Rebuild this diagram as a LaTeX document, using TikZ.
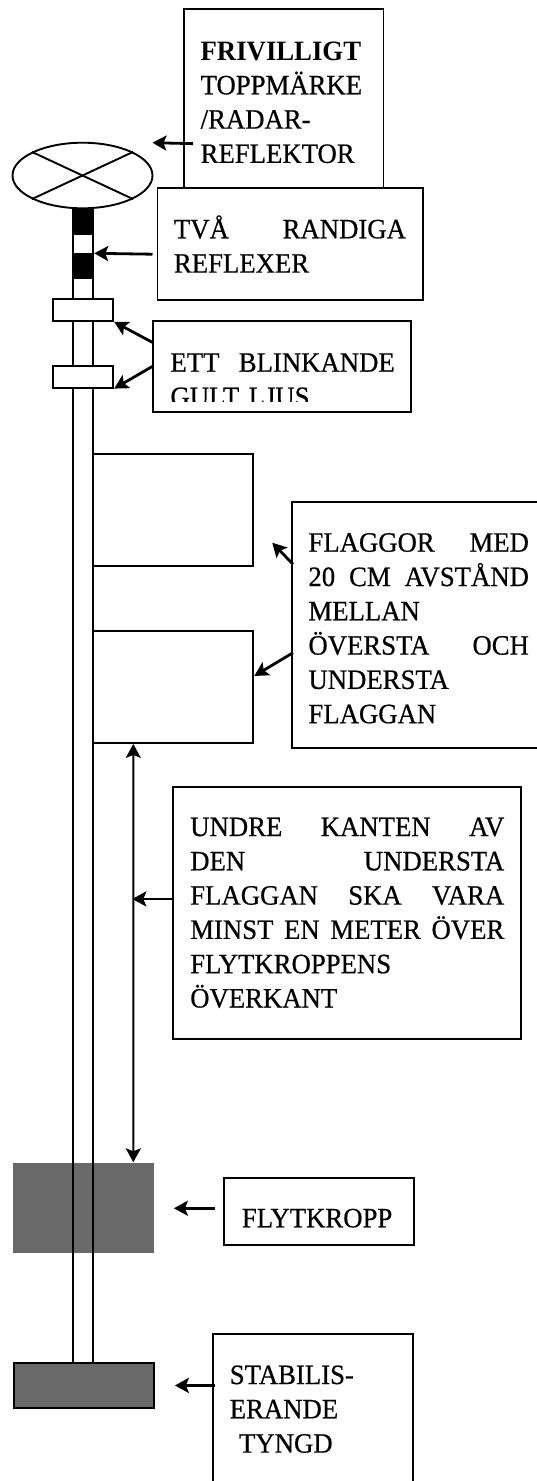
\documentclass[tikz,border=0pt]{standalone}
\usepackage{fontspec}
\setmainfont{Liberation Serif}[FakeStretch=0.955,UprightFeatures={FakeBold=0.6}]
\usetikzlibrary{arrows.meta,shapes.geometric}

\definecolor{floatgray}{RGB}{105,105,105}
\newcommand{\notefont}{\fontsize{28}{34.3}\selectfont}

\begin{document}
\begin{tikzpicture}[x=1pt,y=-1pt,line width=1.9pt]

        \useasboundingbox (0,0) rectangle (537,1481);
        \clip (0,0) rectangle (537,1481);

        \node[fill=floatgray,anchor=north west,inner sep=0pt,minimum width=141.3pt,minimum height=90pt] (float) at (12,1162.3) {};

        \begin{scope}[every node/.style={draw,anchor=north west,inner sep=0pt}]
          \node[minimum width=20pt,minimum height=1153.4pt]          (mast)    at (72.3,208.3)  {};
          \node[fill=black,minimum width=20pt,minimum height=22.7pt] (stripe1) at (72.3,210)    {};
          \node[fill=black,minimum width=20pt,minimum height=24pt]   (stripe2) at (72.3,253.3)  {};
          \node[fill=white,minimum width=60pt,minimum height=21.7pt] (light1)  at (52.3,298.3)  {};
          \node[fill=white,minimum width=60pt,minimum height=21.7pt] (light2)  at (52.3,365)    {};
          \node[minimum width=160.1pt,minimum height=111.7pt]        (flag1)   at (92.3,453.3)  {};
          \node[minimum width=160.1pt,minimum height=112pt]          (flag2)   at (92.3,630)    {};
          \node[fill=floatgray,minimum width=140.3pt,minimum height=45.6pt] (weight) at (12.7,1361.7) {};
        \end{scope}

        \node[draw,ellipse,inner sep=0pt,minimum width=140pt,minimum height=65.6pt] (reflector) at (82.5,175.5) {};
        \draw (reflector.25) -- (reflector.205);
        \draw (reflector.155) -- (reflector.335);

        \begin{scope}[every node/.style={draw,anchor=north west,inner sep=0pt}]
          \node[minimum width=199.5pt,minimum height=179.6pt] (topmark)    at (183,7.7)      {};
          \node[minimum width=265.8pt,minimum height=111.7pt] (reflexer)   at (156.5,187.3)  {};
          \node[minimum width=258pt,minimum height=91pt]      (blink)      at (152.3,320)    {};
          \node[minimum width=270pt,minimum height=246pt]     (flagnote)   at (291,501)      {};
          \node[minimum width=348.3pt,minimum height=252.6pt] (gap)        at (171.7,785.7)  {};
          \node[minimum width=189.4pt,minimum height=67.3pt]  (floatnote)  at (223.3,1176.7) {};
          \node[minimum width=200.2pt,minimum height=170pt]   (weightnote) at (211.8,1333.3) {};
        \end{scope}

        \begin{scope}[every node/.style={anchor=base west,inner sep=0pt,align=left,font=\notefont}]
          \node[text width=180pt] (topmark-text) at (199.7,60)
            {\textbf{FRIVILLIGT}\\TOPPMÄRKE\\/RADAR-\\REFLEKTOR};
          \node[text width=232pt] (reflexer-text) at (173,238.3)
            {TVÅ\hfill RANDIGA\\REFLEXER};
          \begin{scope}
            \clip (blink.north west) rectangle ([yshift=11.5pt]blink.south east);
            \node[text width=224.3pt] (blink-text) at (169.5,371.7)
              {ETT\hfill BLINKANDE\\GULT LJUS};
          \end{scope}
          \node[text width=220.5pt] (flagnote-text) at (307.5,551.7)
            {FLAGGOR\hfill MED\\20\hfill CM\hfill AVSTÅND\\MELLAN\\ÖVERSTA\hfill OCH\\UNDERSTA\\FLAGGAN};
          \node[text width=314.1pt] (gap-text) at (189.3,836)
            {UNDRE\hfill KANTEN\hfill AV\\DEN\hfill UNDERSTA\\FLAGGAN\hfill SKA\hfill VARA\\MINST\hfill EN\hfill METER\hfill ÖVER\\FLYTKROPPENS\\ÖVERKANT};
          \node[text width=160pt] (floatnote-text) at (241,1227.3) {FLYTKROPP};
          \node[text width=170pt] (weightnote-text) at (228.8,1384)
            {STABILIS-\\ERANDE\\\ TYNGD};
        \end{scope}

        \coordinate (reflector-tip) at (152.4,142.7);
        \coordinate (flag1-tip)     at (272.3,542.7);

        \begin{scope}[every edge/.style={draw,line width=2.8pt,-{Stealth[length=14pt,width=15pt,inset=3pt]}}]
          \path ([xshift=10pt,yshift=-45.2pt]topmark.west) edge (reflector-tip);
          \path ([xshift=-4pt,yshift=-10.1pt]reflexer.west) edge (stripe2.north east);
          \path ([yshift=-22.3pt]blink.north west) edge (light1.south east);
          \path (blink.west) edge (light2.south east);
          \path ([xshift=2pt,yshift=-63.3pt]flagnote.north west) edge (flag1-tip);
          \path ([xshift=2pt,yshift=-151.7pt]flagnote.north west) edge ([yshift=11pt]flag2.east);
          \path ([yshift=14pt]gap.west) edge ([xshift=-39.4pt,yshift=14pt]gap.west);
          \path ([xshift=59.7pt]float.east) edge ([xshift=18.7pt]float.east);
          \path ([xshift=60pt]weight.east) edge ([xshift=20pt]weight.east);
        \end{scope}

        \draw[line width=2pt,{Stealth[length=14pt,width=15pt,inset=3pt]}-{Stealth[length=14pt,width=15pt,inset=3pt]}]
          ([xshift=-40pt]flag2.south) -- ([xshift=49.7pt]float.north);

\end{tikzpicture}
\end{document}
